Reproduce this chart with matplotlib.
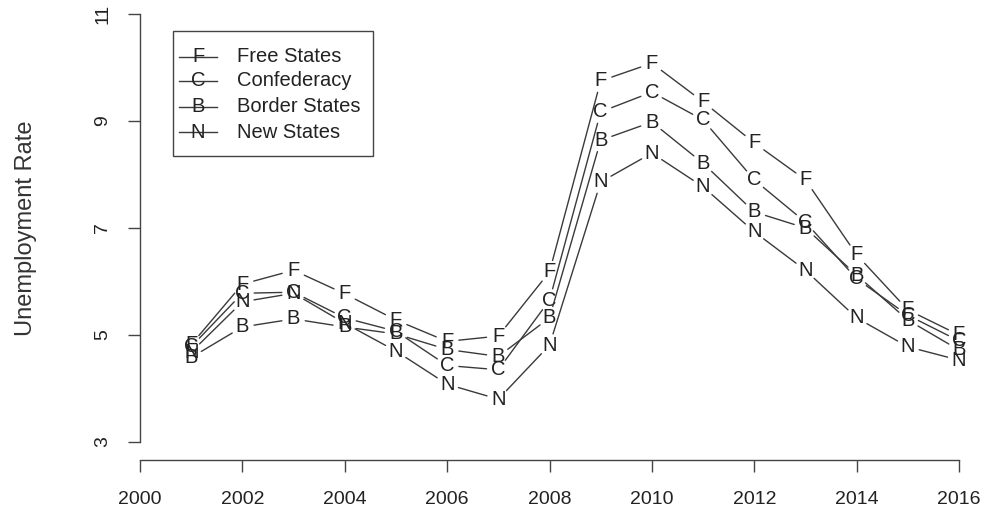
import matplotlib
matplotlib.use("Agg")
import matplotlib.pyplot as plt
from matplotlib.patches import Rectangle
from matplotlib.lines import Line2D

plt.rcParams['font.family'] = ['Liberation Sans', 'DejaVu Sans']

years = list(range(2001, 2017))
free_states = [4.82, 5.95, 6.21, 5.77, 5.28, 4.88, 4.98, 6.18, 9.75, 10.08, 9.36, 8.59, 7.90, 6.50, 5.47, 5.00]
confederacy = [4.78, 5.78, 5.80, 5.32, 5.07, 4.43, 4.35, 5.65, 9.17, 9.54, 9.02, 7.90, 7.11, 6.05, 5.37, 4.89]
border_states = [4.58, 5.15, 5.30, 5.15, 5.02, 4.73, 4.60, 5.32, 8.64, 8.98, 8.21, 7.30, 7.00, 6.12, 5.28, 4.72]
new_states = [4.68, 5.62, 5.78, 5.22, 4.70, 4.08, 3.80, 4.81, 7.86, 8.40, 7.77, 6.93, 6.21, 5.32, 4.78, 4.53]

series = [("F", "Free States", free_states),
          ("C", "Confederacy", confederacy),
          ("B", "Border States", border_states),
          ("N", "New States", new_states)]

x_ticks = [2000, 2002, 2004, 2006, 2008, 2010, 2012, 2014, 2016]
y_ticks = [3, 5, 7, 9, 11]

W, H = 989, 514
fig = plt.figure(figsize=(W / 100, H / 100), dpi=100)


def fx(px):
    return px / W


def fy(py):
    return 1 - py / H


# axes box: 2000..2016 across, 3..11 up
ax = fig.add_axes([fx(140), fy(442), fx(959) - fx(140), fy(14) - fy(442)])
ax.set_xlim(2000, 2016)
ax.set_ylim(3, 11)

line_col = '#3a3a3a'
txt_col = '#222222'

# type="b" style: letters at points, segments with gaps
for letter, name, vals in series:
    for i in range(len(years)):
        ax.text(years[i], vals[i], letter, ha='center', va='center',
                fontsize=14.5, color=txt_col, clip_on=False)
    for i in range(len(years) - 1):
        ax.annotate('', xy=(years[i + 1], vals[i + 1]), xytext=(years[i], vals[i]),
                    arrowprops=dict(arrowstyle='-', color=line_col, lw=1.0,
                                    shrinkA=8.5, shrinkB=8.5), annotation_clip=False)

for s in ['top', 'right']:
    ax.spines[s].set_visible(False)
ax.spines['bottom'].set_position(('outward', 13))
for s in ['left', 'bottom']:
    ax.spines[s].set_color('#444444')
    ax.spines[s].set_linewidth(1.0)

ax.set_xticks(x_ticks)
ax.set_xticklabels([str(t) for t in x_ticks], fontsize=14, color=txt_col)
ax.set_yticks(y_ticks)
ax.set_yticklabels([str(t) for t in y_ticks], fontsize=14, color=txt_col,
                   rotation=90, va='center')
ax.tick_params(axis='both', length=8.6, width=1.0, color='#444444')
ax.tick_params(axis='x', pad=14)
ax.tick_params(axis='y', pad=12)
ax.set_ylabel('Unemployment Rate', fontsize=17, color='#333333', labelpad=41)

# legend box
fig.patches.append(Rectangle((fx(173), fy(156)), fx(373) - fx(173), fy(31) - fy(156),
                             transform=fig.transFigure, fill=False,
                             edgecolor='#444444', lw=1.0))
row_y = [57, 81, 107, 132]
for (letter, name, vals), ry in zip(series, row_y):
    fig.lines.append(Line2D([fx(179), fx(217)], [fy(ry), fy(ry)],
                            transform=fig.transFigure, color=line_col, lw=1.0))
    fig.text(fx(198), fy(ry), letter, ha='center', va='center',
             fontsize=14.5, color=txt_col)
    fig.text(fx(237), fy(ry), name, ha='left', va='center',
             fontsize=14.5, color=txt_col)

fig.savefig('out.png', dpi=100)
